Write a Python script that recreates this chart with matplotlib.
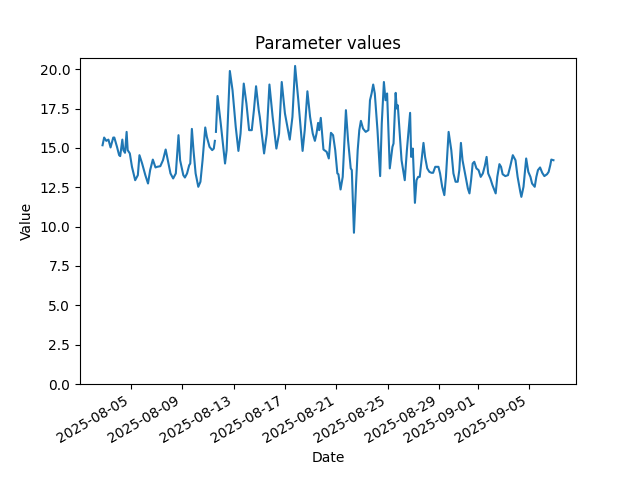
"""
Parameter values time series (hourly samples, one gap on 08-11)
"""

import numpy as np
import pandas as pd
import matplotlib
matplotlib.use("Agg")
import matplotlib.pyplot as plt

# ---------------------------------------------------------------------------
# data: hours since START and the parameter value at that time
# ---------------------------------------------------------------------------
START = "2025-08-02 00:00"

HOURS = [
    19, 22, 26, 30, 34, 39, 41, 46, 50, 52, 56, 58, 61, 64, 66, 70, 74,
    80, 85, 88, 93, 99, 104, 108, 113, 118, 121, 127, 132, 137, 141, 146,
    151, 156, 161, 164, 170, 173, 177, 181, 183, 186, 189, 193, 198, 202,
    206, 211, 214, 219, 224, 227, 229,
    230,  # missing sample
    231, 234, 240, 248, 251, 257, 262, 268, 273, 277, 283, 288, 293, 298,
    302, 306, 311, 313, 321, 326, 331, 337, 344, 349, 354, 360, 369, 374,
    379, 385, 393, 397, 402, 407, 412, 416, 419, 422, 424, 427, 429, 432,
    438, 442, 446, 450, 454, 458, 460, 464, 468, 474, 478, 483, 485, 489,
    493, 496, 499, 502, 506, 511, 516, 519, 522, 525, 528, 533, 538, 541,
    545, 548, 551, 556, 561, 563, 567, 569, 571, 575, 578, 581, 584, 588,
    594, 596, 599, 603, 606, 609, 612, 616, 619, 622, 626, 630, 634, 637,
    641, 647, 650, 654, 658, 661, 666, 671, 675, 679, 683, 686, 689, 692,
    698, 702, 705, 708, 711, 714, 718, 722, 726, 730, 734, 737, 740, 744,
    748, 754, 757, 761, 764, 767, 772, 777, 781, 786, 791, 795, 800, 802,
    806, 811, 815, 819, 822, 827, 830, 833, 837, 841, 845, 850, 853, 856,
    858, 862,
]

VALUES = [
    15.17, 15.66, 15.45, 15.53, 15.03, 15.66, 15.66, 15.07, 14.54, 14.48,
    15.53, 14.86, 14.69, 16.02, 14.86, 14.65, 13.80,
    12.95, 13.27, 14.54, 14.01, 13.27, 12.74, 13.59, 14.26, 13.76, 13.80,
    13.84, 14.22, 14.90, 14.22, 13.38,
    13.06, 13.38, 15.81, 14.22, 13.27, 13.12, 13.38, 13.90, 14.01, 16.21,
    14.86, 13.38, 12.53, 12.85,
    14.22, 16.30, 15.70, 15.07, 14.86, 14.96, 15.45,
    np.nan,
    16.02, 18.30, 16.55, 14.01, 14.86, 19.89, 18.67, 16.34, 14.81, 15.91,
    19.09, 17.82, 16.13, 16.13,
    17.40, 18.92, 17.40, 16.97, 14.65, 15.91, 19.03, 16.97, 14.96, 15.91,
    19.19, 17.19, 15.53, 16.97,
    20.21, 18.03, 14.81, 16.13, 18.60, 16.97, 15.91, 15.45, 15.91, 16.59,
    16.13, 16.91, 16.13, 14.90,
    14.75, 14.33, 15.96, 15.81, 14.86, 13.38, 13.33, 12.36, 13.16, 17.40,
    15.49, 13.70, 13.59, 9.61,
    12.74, 14.86, 16.13, 16.72, 16.23, 16.02, 16.13, 18.03, 18.46, 19.03,
    18.46, 16.13, 13.21, 16.55,
    19.19, 18.03, 18.46, 13.70, 15.07, 15.28, 18.50, 17.50, 17.71, 15.70,
    14.22, 13.59, 12.95, 14.86,
    17.23, 14.43, 14.96, 11.51, 12.95, 13.16, 13.16, 14.43, 15.32, 14.43,
    13.70, 13.48, 13.42, 13.42,
    13.80, 13.80, 13.38, 12.53, 12.00, 13.16, 16.02, 14.86, 13.38, 12.85,
    12.85, 13.59, 15.32, 14.22,
    13.16, 12.42, 12.11, 12.95, 14.01, 14.12, 13.70, 13.59, 13.16, 13.38,
    13.90, 14.43, 13.38, 13.06,
    12.63, 12.11, 13.16, 13.97, 13.80, 13.33, 13.21, 13.27, 13.80, 14.54,
    14.22, 13.16, 12.21, 11.89,
    12.53, 14.33, 13.48, 13.16, 12.74, 12.53, 13.16, 13.59, 13.76, 13.42,
    13.21, 13.33, 13.48, 13.90,
    14.26, 14.22,
]


def main():
    dates = pd.Timestamp(START) + pd.to_timedelta(HOURS, unit="h")

    fig, ax = plt.subplots(figsize=(6.4, 4.8), dpi=100)
    ax.plot(dates, VALUES)

    ax.set_title("Parameter values")
    ax.set_xlabel("Date")
    ax.set_ylabel("Value")
    ax.set_ylim(bottom=0)
    fig.autofmt_xdate()

    fig.savefig("out.png", dpi=100)


if __name__ == "__main__":
    main()
